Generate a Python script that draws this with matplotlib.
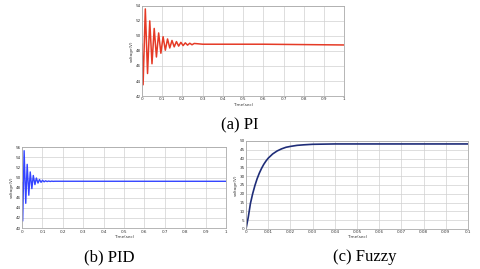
import matplotlib.pyplot as plt
import numpy as np

# PI response (extrema)
pi_t = [0, 0.005, 0.016, 0.027, 0.038, 0.049, 0.060, 0.071, 0.082, 0.093, 0.104,
        0.115, 0.126, 0.137, 0.148, 0.159, 0.170, 0.181, 0.192, 0.203, 0.214,
        0.225, 0.236, 0.247, 0.258, 0.3, 0.6, 1.0]
pi_v = [48.9, 43.5, 53.6, 45.0, 52.0, 46.3, 51.0, 47.2, 50.4, 47.7, 49.9,
        48.1, 49.6, 48.4, 49.4, 48.55, 49.25, 48.65, 49.15, 48.72, 49.08,
        48.78, 49.03, 48.83, 49.0, 48.9, 48.9, 48.8]

# PID response
pid_t = [0, 0.003, 0.010, 0.018, 0.025, 0.033, 0.040, 0.048, 0.055, 0.063, 0.070,
         0.078, 0.085, 0.093, 0.100, 0.108, 0.115, 0.123, 0.130, 0.138, 0.145,
         0.153, 0.160, 1.0]
pid_v = [49.0, 41.4, 55.3, 44.9, 52.6, 46.5, 51.1, 47.8, 50.4, 48.6, 49.9,
         48.9, 49.6, 49.05, 49.45, 49.15, 49.35, 49.2, 49.3, 49.22, 49.28,
         49.24, 49.26, 49.25]

# Fuzzy response
fz_t = [0, 0.001, 0.002, 0.003, 0.004, 0.005, 0.006, 0.007, 0.008, 0.009, 0.010,
        0.012, 0.014, 0.016, 0.018, 0.020, 0.023, 0.026, 0.030, 0.035, 0.040, 0.1]
fz_v = [0, 6.5, 14.5, 20.0, 24.6, 28.5, 31.7, 34.4, 36.7, 38.6, 40.2,
        42.6, 44.3, 45.5, 46.4, 46.9, 47.5, 47.8, 48.1, 48.2, 48.3, 48.3]

pi_yticks = [42, 44, 46, 48, 50, 52, 54]
pid_yticks = [40, 42, 44, 46, 48, 50, 52, 54, 56]
fz_yticks = [0, 5, 10, 15, 20, 25, 30, 35, 40, 45, 50]
t_ticks = [0, 0.1, 0.2, 0.3, 0.4, 0.5, 0.6, 0.7, 0.8, 0.9, 1]
t_labels = ['0', '0.1', '0.2', '0.3', '0.4', '0.5', '0.6', '0.7', '0.8', '0.9', '1']
fz_ticks = [0, 0.01, 0.02, 0.03, 0.04, 0.05, 0.06, 0.07, 0.08, 0.09, 0.1]
fz_labels = ['0', '0.01', '0.02', '0.03', '0.04', '0.05', '0.06', '0.07', '0.08', '0.09', '0.1']


def scope(ax, t, v, color, xticks, xlabels, yticks, lw=1.0):
	ax.plot(t, v, color=color, lw=lw)
	ax.set_xlim(xticks[0], xticks[-1])
	ax.set_ylim(yticks[0], yticks[-1])
	ax.set_xticks(xticks)
	ax.set_xticklabels(xlabels)
	ax.set_yticks(yticks)
	ax.grid(True, color='#d0d0d0', lw=0.5)
	ax.tick_params(labelsize=3, length=0, pad=1, colors='#333333')
	for s in ax.spines.values():
		s.set_color('#aaaaaa')
		s.set_linewidth(0.6)
	ax.set_xlabel('Time(sec)', fontsize=3, labelpad=0.8, color='#333333')
	ax.set_ylabel('voltage(V)', fontsize=3, labelpad=0.8, color='#333333')


fig = plt.figure(figsize=(4.8, 2.69), dpi=100)

ax1 = fig.add_axes([0.296, 0.643, 0.421, 0.335])
scope(ax1, pi_t, pi_v, '#e53a26', t_ticks, t_labels, pi_yticks, lw=1.1)

ax2 = fig.add_axes([0.046, 0.152, 0.425, 0.301])
scope(ax2, pid_t, pid_v, '#3344ff', t_ticks, t_labels, pid_yticks)

ax3 = fig.add_axes([0.5125, 0.149, 0.4625, 0.327])
scope(ax3, fz_t, fz_v, '#1f2d78', fz_ticks, fz_labels, fz_yticks, lw=1.2)

cap = dict(fontsize=12, family='Liberation Serif', ha='center', va='center')
fig.text(0.5, 1 - 125/269, '(a) PI', **cap)
fig.text(109/480, 1 - 257/269, '(b) PID', **cap)
fig.text(365/480, 1 - 257/269, '(c) Fuzzy', **cap)

fig.savefig('out.png', dpi=100)
